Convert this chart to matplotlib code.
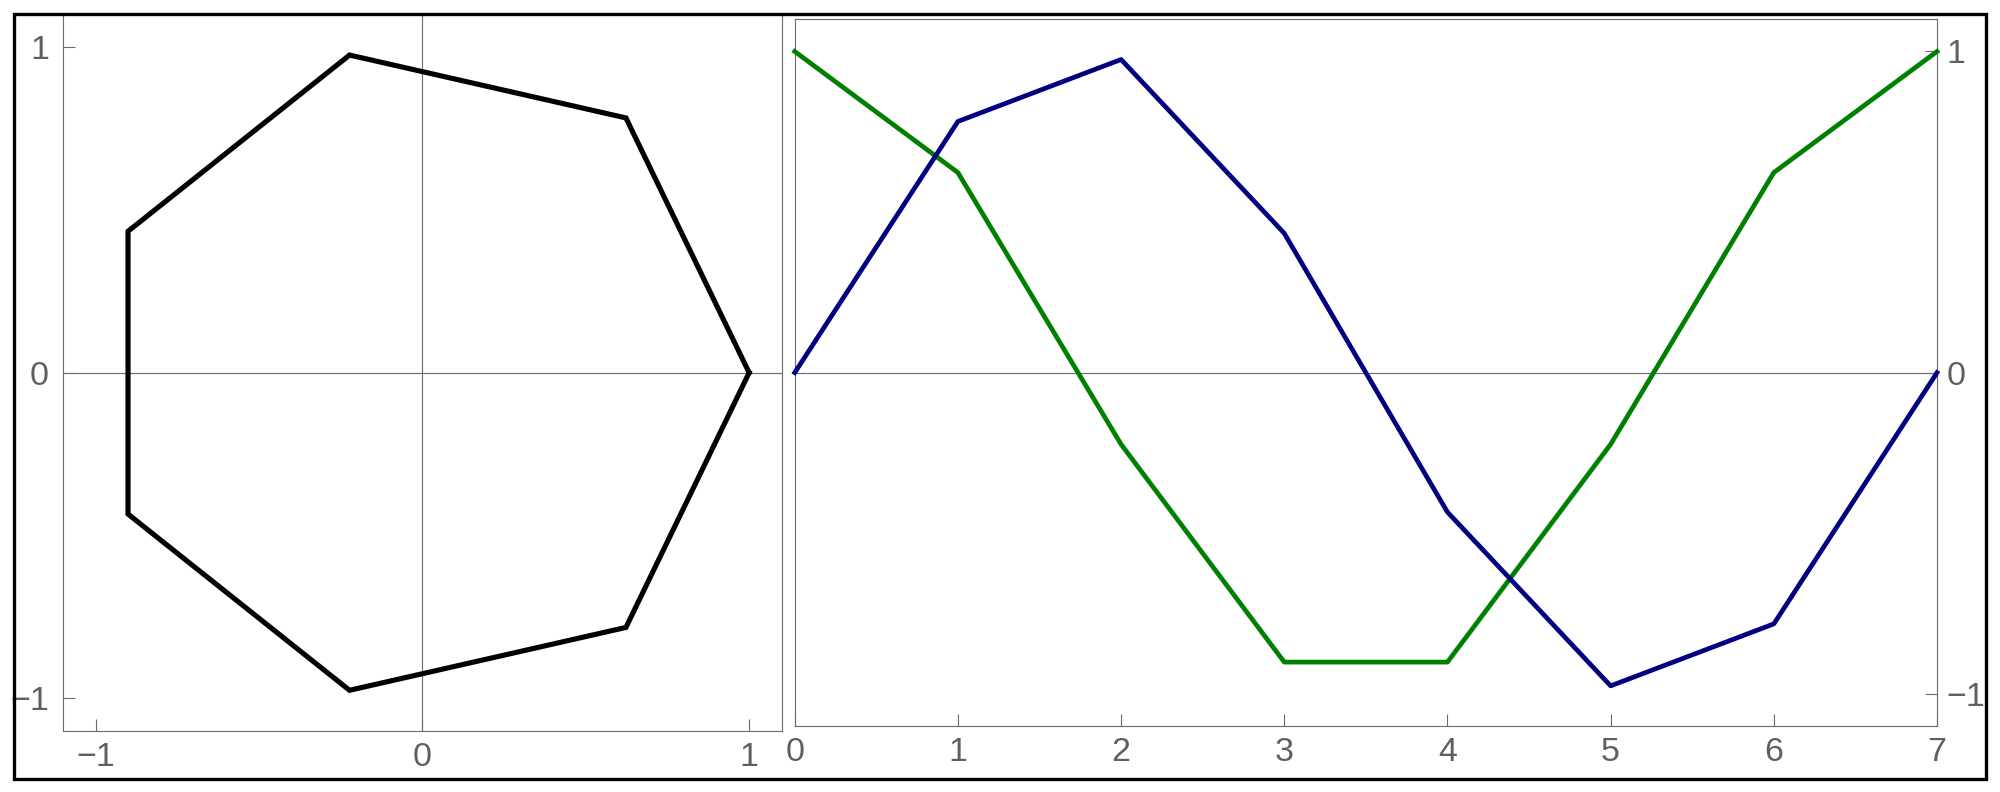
import matplotlib
matplotlib.use("Agg")
import matplotlib.pyplot as plt
from matplotlib.patches import Rectangle

plt.rcParams['font.family'] = ['Liberation Sans', 'DejaVu Sans']

# heptagon vertices (closed)
hept_x = [1.0, 0.623, -0.223, -0.901, -0.901, -0.223, 0.623, 1.0]
hept_y = [0.0, 0.782, 0.975, 0.434, -0.434, -0.975, -0.782, 0.0]

# right panel series
k = [0, 1, 2, 3, 4, 5, 6, 7]
blue_vals = [0.0, 0.782, 0.975, 0.434, -0.434, -0.975, -0.782, 0.0]
green_vals = [1.0, 0.623, -0.223, -0.901, -0.901, -0.223, 0.623, 1.0]

left_ticks = [-1, 0, 1]
right_yticks = [-1, 0, 1]

frame_col = '#6a6a6a'
label_col = '#5f5f5f'
fs = 24.5

fig = plt.figure(figsize=(20, 7.92), dpi=100)

# outer black border
fig.patches.append(Rectangle((0.0072, 0.0158), 0.9856, 0.9670, transform=fig.transFigure,
                             fill=False, edgecolor='black', linewidth=2.4, zorder=10))


def style_axes(ax):
    for s in ax.spines.values():
        s.set_color(frame_col)
        s.set_linewidth(0.8)
    ax.tick_params(direction='in', color=frame_col, width=0.8, length=8.5,
                   labelcolor=label_col, labelsize=fs)


def minus(vals):
    return [str(t).replace('-', '\u2212') for t in vals]


# left panel: heptagon
ax1 = fig.add_axes([0.0315, 0.0770, 0.3594, 0.9049])
style_axes(ax1)
ax1.axhline(0, color=frame_col, lw=0.8, zorder=1)
ax1.axvline(0, color=frame_col, lw=0.8, zorder=1)
ax1.plot(hept_x, hept_y, color='black', lw=3.7, solid_joinstyle='miter', zorder=3)
ax1.set_xlim(-1.1, 1.1)
ax1.set_ylim(-1.1, 1.1)
ax1.set_xticks(left_ticks)
ax1.set_yticks(left_ticks)
ax1.set_xticklabels(minus(left_ticks))
ax1.set_yticklabels(minus(left_ticks))
ax1.tick_params(axis='x', pad=8)
ax1.tick_params(axis='y', pad=10)

# right panel: two series
ax2 = fig.add_axes([0.39735, 0.0833, 0.57115, 0.8923])
style_axes(ax2)
ax2.axhline(0, color=frame_col, lw=0.8, zorder=1)
ax2.plot(k, green_vals, color='#008000', lw=3.4, clip_on=False, zorder=3)
ax2.plot(k, blue_vals, color='#000080', lw=3.4, clip_on=False, zorder=4)
ax2.set_xlim(0, 7)
ax2.set_ylim(-1.1, 1.1)
ax2.set_xticks(k)
ax2.set_yticks(right_yticks)
ax2.set_yticklabels(minus(right_yticks))
ax2.yaxis.tick_right()
ax2.tick_params(axis='y', left=False, right=True, pad=7)
ax2.tick_params(axis='x', pad=8)

fig.savefig("out.png", dpi=100)
